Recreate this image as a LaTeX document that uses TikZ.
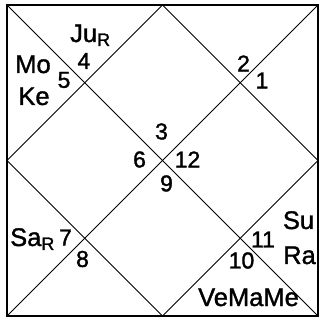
\documentclass[tikz,border=0pt]{standalone}
\usepackage{fontspec}
\setmainfont[FakeBold=1.4]{Liberation Sans}
\usetikzlibrary{positioning}
\newcommand{\retro}{{\fontsize{18}{18}\selectfont\raisebox{-4pt}{R}}}

\begin{document}
\begin{tikzpicture}[x=1pt, y=-1pt,
    house/.style={font=\fontsize{23}{23}\selectfont, inner sep=0pt},
    planet/.style={font=\fontsize{25.5}{25.5}\selectfont, inner sep=0pt},
    frame/.style={line width=2pt},
    grid/.style={line width=1pt},
]

\useasboundingbox (0,0) rectangle (322,321);

% Chart corners and edge midpoints
\coordinate (tl) at (7,5);
\coordinate (tr) at (318,5);
\coordinate (br) at (318,316);
\coordinate (bl) at (7,316);
\coordinate (top) at (162.5,5);
\coordinate (rgt) at (318,160.5);
\coordinate (bot) at (162.5,316);
\coordinate (lft) at (7,160.5);

% Frame, diagonals and diamond
\draw[frame] (tl) rectangle (br);
\draw[grid] (tl) -- (br);
\draw[grid] (tr) -- (bl);
\draw[grid] (top) -- (rgt) -- (bot) -- (lft) -- cycle;

% House numbers
\node[house] (h1) at (262,80.5) {1};
\node[house] (h2) at (243.5,63.5) {2};
\node[house] (h3) at (161.5,131.5) {3};
\node[house] (h4) at (84,61) {4};
\node[house] (h5) at (64,80) {5};
\node[house] (h6) at (139.5,159.5) {6};
\node[house] (h7) at (65.5,237.5) {7};
\node[house] (h8) at (82.5,259) {8};
\node[house] (h9) at (166.5,183.5) {9};
\node[house] (h10) at (241.5,260.5) {10};
\node[house] (h11) at (263,239.5) {11};
\node[house] (h12) at (187.5,159.5) {12};

% Planets
\node[planet, anchor=base west] (ju) at (70,42) {Ju\retro};
\node[planet, anchor=base] (mo) at (33,73) {Mo};
\node[planet, anchor=base] (ke) at (34,105) {Ke};
\node[planet, anchor=base west] (sa) at (10,246) {Sa\retro};
\node[planet, anchor=base] (su) at (298.5,229) {Su};
\node[planet, anchor=base] (ra) at (299.5,264) {Ra};
\node[planet, anchor=base] (vmm) at (248.5,306) {VeMaMe};

\end{tikzpicture}
\end{document}
